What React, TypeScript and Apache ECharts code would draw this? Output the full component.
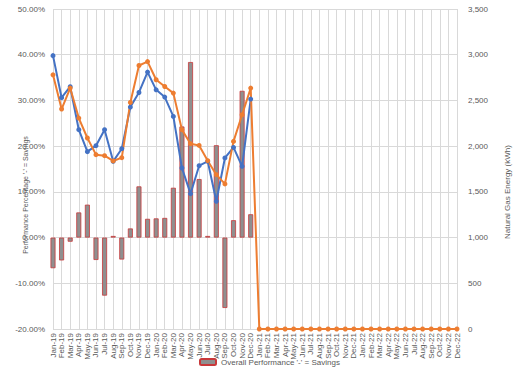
import React, { useEffect, useRef } from "react";
import * as echarts from "echarts";

const years = ["19", "20", "21", "22"];
const monthNames = ["Jan", "Feb", "Mar", "Apr", "May", "Jun", "Jul", "Aug", "Sep", "Oct", "Nov", "Dec"];
const categories: string[] = [];
years.forEach((y) => monthNames.forEach((m) => categories.push(`${m}-${y}`)));

// Overall performance percentage (% , negative = savings)
const performance: (number | null)[] = [
  -6.7, -5.0, -0.9, 5.5, 7.2, -4.9, -12.7, 0.35, -4.8, 2.0, 11.2, 4.1,
  4.2, 4.3, 10.9, 24.3, 38.4, 12.8, 0.35, 20.2, -15.4, 3.8, 32.1, 5.1,
];

// Natural gas energy (kWh) - blue series
const blueEnergy: (number | null)[] = [
  2990, 2530, 2650, 2180, 1940, 2005, 2180, 1834, 1972, 2427, 2587, 2810,
  2616, 2537, 2325, 1761, 1480, 1786, 1834, 1397, 1871, 1986, 1779, 2515,
];

// Natural gas energy (kWh) - orange series
const orangeEnergy: number[] = [
  2780, 2406, 2635, 2307, 2089, 1907, 1896, 1838, 1874, 2478, 2882, 2925,
  2726, 2652, 2580, 2180, 2027, 2008, 1841, 1688, 1587, 2052, 2343, 2635,
  0, 0, 0, 0, 0, 0, 0, 0, 0, 0, 0, 0,
  0, 0, 0, 0, 0, 0, 0, 0, 0, 0, 0, 0,
];

const leftTicks = { min: -20, max: 50, interval: 10 };
const rightTicks = { min: 0, max: 3500, interval: 500 };

const leftTitle = "Performance Percentage '-' = Savings";
const rightTitle = "Natural Gas Energy (kWh)";
const legendName = "Overall Performance '-' = Savings";

const FONT = "Liberation Sans, sans-serif";
const GREY = "#595959";
const GRID = "#d9d9d9";

export default function App() {
  const ref = useRef<HTMLDivElement>(null);
  useEffect(() => {
    if (!ref.current) return;
    const chart = echarts.init(ref.current, undefined, { renderer: "svg" });
    chart.setOption({
      animation: false,
      textStyle: { fontFamily: FONT },
      grid: { left: 53, right: 62, top: 9, bottom: 46, containLabel: false },
      legend: {
        data: [legendName],
        left: 194,
        top: 353,
        itemWidth: 16,
        itemHeight: 6,
        itemGap: 4,
        textStyle: { fontSize: 8, color: GREY, fontFamily: FONT },
      },
      graphic: [
        {
          type: "text",
          x: 25,
          y: 195,
          rotation: Math.PI / 2,
          style: {
            text: leftTitle,
            fontSize: 7,
            fill: GREY,
            fontFamily: FONT,
            align: "center",
            verticalAlign: "middle",
          },
        },
        {
          type: "text",
          x: 507,
          y: 192,
          rotation: Math.PI / 2,
          style: {
            text: rightTitle,
            fontSize: 8,
            fill: GREY,
            fontFamily: FONT,
            align: "center",
            verticalAlign: "middle",
          },
        },
      ],
      xAxis: {
        type: "category",
        data: categories,
        boundaryGap: false,
        axisLine: { show: true, lineStyle: { color: GRID } },
        axisTick: { show: false },
        splitLine: { show: true, lineStyle: { color: GRID, width: 1 } },
        axisLabel: { rotate: 90, interval: 0, fontSize: 8, color: GREY, margin: 4, fontFamily: FONT },
      },
      yAxis: [
        {
          type: "value",
          min: leftTicks.min,
          max: leftTicks.max,
          interval: leftTicks.interval,
          axisLine: { show: false },
          axisTick: { show: false },
          splitLine: { show: true, lineStyle: { color: GRID, width: 1 } },
          axisLabel: {
            fontSize: 8,
            color: GREY,
            margin: 8,
            fontFamily: FONT,
            formatter: (v: number) => v.toFixed(2) + "%",
          },
        },
        {
          type: "value",
          min: rightTicks.min,
          max: rightTicks.max,
          interval: rightTicks.interval,
          axisLine: { show: false },
          axisTick: { show: false },
          splitLine: { show: false },
          axisLabel: {
            fontSize: 8,
            color: GREY,
            margin: 11,
            fontFamily: FONT,
            formatter: (v: number) => v.toLocaleString("en-US"),
          },
        },
      ],
      series: [
        {
          name: legendName,
          type: "bar",
          yAxisIndex: 0,
          data: performance,
          barWidth: 5,
          itemStyle: { color: "#8f8f8f", borderColor: "#c8383a", borderWidth: 0.8 },
          clip: true,
        },
        {
          name: "Baseline",
          type: "line",
          yAxisIndex: 1,
          data: blueEnergy,
          symbol: "circle",
          symbolSize: 5,
          lineStyle: { color: "#4472c4", width: 2 },
          itemStyle: { color: "#4472c4" },
        },
        {
          name: "Actual",
          type: "line",
          yAxisIndex: 1,
          data: orangeEnergy,
          symbol: "circle",
          symbolSize: 5,
          lineStyle: { color: "#ed7d31", width: 2 },
          itemStyle: { color: "#ed7d31" },
        },
      ],
    });
    return () => chart.dispose();
  }, []);
  return <div ref={ref} style={{ width: 519, height: 375, position: "absolute", left: 0, top: 0 }} />;
}
